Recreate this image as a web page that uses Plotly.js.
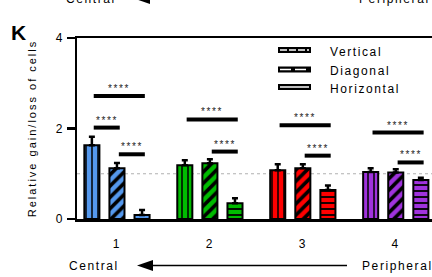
<!DOCTYPE html>
<html><head><meta charset="utf-8">
<script src="https://cdn.plot.ly/plotly-3.0.1.min.js"></script>
<style>body{margin:0;background:#fff}text{letter-spacing:1.6px}.ytitle{letter-spacing:2px}</style>
</head><body><div id="chart" style="width:432px;height:277px"></div>
<script>
const categories = ['1', '2', '3', '4'];
const seriesNames = ['Vertical', 'Diagonal', 'Horizontal'];
const vertical = [1.63, 1.19, 1.08, 1.04];
const verticalErr = [0.19, 0.11, 0.13, 0.08];
const diagonal = [1.12, 1.23, 1.12, 1.03];
const diagonalErr = [0.12, 0.09, 0.09, 0.07];
const horizontal = [0.09, 0.35, 0.64, 0.86];
const horizontalErr = [0.11, 0.11, 0.10, 0.05];
const groupColors = ['#5599ee', '#00bb00', '#ff0000', '#a033dd'];
const refLine = 1;
// significance brackets: group index, from bar, to bar, height
const sigGroup = [0, 0, 0, 1, 1, 2, 2, 3, 3];
const sigFrom = [0, 0, 1, 0, 1, 0, 1, 0, 1];
const sigTo = [2, 1, 2, 2, 2, 2, 2, 2, 2];
const sigHeight = [2.72, 2.02, 1.43, 2.20, 1.49, 2.07, 1.40, 1.91, 1.25];
const sigLabel = '****';
const yTicks = [0, 2, 4];
const yTitle = 'Relative gain/loss of cells';
const dirLabels = ['Central', 'Peripheral'];

// geometry helpers (plot area: left 77, top 38, width 355, height 181)
const L = 77, T = 38, W = 355, H = 181;
const PX = p => (p - L) / W;
const PY = p => (T + H - p) / H;
const slot = 0.27;

const values = [vertical, diagonal, horizontal];
const errs = [verticalErr, diagonalErr, horizontalErr];
const shapesPat = ['|', '/', '-'];
const patSize = [6, 8, 6];
const patSol = [0.25, 0.45, 0.3];

const traces = seriesNames.map((n, k) => ({
  type: 'bar', name: n, x: categories, y: values[k],
  marker: {
    color: 'white',
    line: {color: 'black', width: 2},
    pattern: {shape: shapesPat[k], fgcolor: 'black', fgopacity: 1, bgcolor: groupColors, size: patSize[k],
              solidity: patSol[k], fillmode: 'replace'}
  },
  error_y: {type: 'data', symmetric: false, array: errs[k], arrayminus: errs[k].map(() => 0),
            color: 'black', thickness: 2.5, width: 3},
  hoverinfo: 'skip'
}));

const shapes = [];
const annotations = [];
// reference dotted line
shapes.push({type: 'line', xref: 'paper', x0: 0, x1: 1, yref: 'y', y0: refLine, y1: refLine,
             line: {color: '#b0b0b0', width: 1, dash: 'dot'}, layer: 'below'});
// significance bars
sigGroup.forEach((g, i) => {
  const x0 = g + (sigFrom[i] - 1) * slot + 0.02;
  const x1 = g + (sigTo[i] - 1) * slot + 0.03;
  shapes.push({type: 'line', xref: 'x', yref: 'y', x0: x0, x1: x1, y0: sigHeight[i], y1: sigHeight[i],
               line: {color: 'black', width: 4}});
  annotations.push({xref: 'x', yref: 'y', x: (x0 + x1) / 2, y: sigHeight[i], text: sigLabel,
                    showarrow: false, yanchor: 'bottom', yshift: 0, font: {size: 10, color: '#222'}});
});
// legend (manual)
const legY = [50, 69.5, 87];
const legDash = ['7px,2px', '11px,4px', 'solid'];
seriesNames.forEach((n, k) => {
  shapes.push({type: 'rect', xref: 'paper', yref: 'paper', x0: PX(278), x1: PX(311),
               y0: PY(legY[k] + 3), y1: PY(legY[k] - 3), fillcolor: 'black', line: {width: 0}});
  shapes.push({type: 'line', xref: 'paper', yref: 'paper', x0: PX(280), x1: PX(309),
               y0: PY(legY[k]), y1: PY(legY[k]), line: {color: 'white', width: 1.5, dash: legDash[k]}});
  annotations.push({xref: 'paper', yref: 'paper', x: PX(328), y: PY(legY[k] + 1.5), text: n,
                    showarrow: false, xanchor: 'left', yanchor: 'middle', font: {size: 12}});
});
// direction arrows (bottom and cut-off top)
[[265.5, 266, 0], [-1.5, -1, -3]].forEach(([ay, ty, dx]) => {
  shapes.push({type: 'line', xref: 'paper', yref: 'paper', x0: PX(150 + dx), x1: PX(347 + dx),
               y0: PY(ay), y1: PY(ay), line: {color: 'black', width: 1.5}});
  shapes.push({type: 'path', xref: 'paper', yref: 'paper',
               path: `M ${PX(137 + dx)} ${PY(ay)} L ${PX(153 + dx)} ${PY(ay - 5.5)} L ${PX(153 + dx)} ${PY(ay + 5.5)} Z`,
               fillcolor: 'black', line: {width: 0}});
  annotations.push({xref: 'paper', yref: 'paper', x: PX(67 + dx), y: PY(ty), text: dirLabels[0],
                    showarrow: false, xanchor: 'left', yanchor: 'middle', font: {size: 12}});
  annotations.push({xref: 'paper', yref: 'paper', x: PX(360 + dx), y: PY(ty), text: dirLabels[1],
                    showarrow: false, xanchor: 'left', yanchor: 'middle', font: {size: 12}});
});
// panel letter
annotations.push({xref: 'paper', yref: 'paper', x: PX(9), y: PY(19), text: '<b>K</b>', showarrow: false,
                  xanchor: 'left', font: {size: 21, family: 'Liberation Sans, Arial'}});

const layout = {
  width: 432, height: 277,
  margin: {l: L, r: 0, t: T, b: 277 - T - H},
  paper_bgcolor: 'white', plot_bgcolor: 'white', showlegend: false,
  barmode: 'group', bargap: 0.19, bargroupgap: 0.4,
  font: {family: 'Liberation Sans, Arial, sans-serif', color: 'black', size: 11},
  xaxis: {type: 'category', range: [-0.43, 3.39], showline: true, linewidth: 2.5, linecolor: 'black',
          mirror: true, ticks: '', ticklabelstandoff: 12, showgrid: false, zeroline: false,
          tickfont: {size: 12}, fixedrange: true},
  yaxis: {range: [0, 4], tickvals: yTicks, showline: true, linewidth: 2.5, linecolor: 'black',
          ticks: 'outside', ticklen: 8, tickwidth: 2.5, tickcolor: 'black', showgrid: false, zeroline: false,
          tickfont: {size: 12}, title: {text: yTitle, standoff: 17, font: {size: 11}}, fixedrange: true},
  shapes: shapes, annotations: annotations
};
Plotly.newPlot('chart', traces, layout, {displayModeBar: false, staticPlot: true});
</script></body></html>
